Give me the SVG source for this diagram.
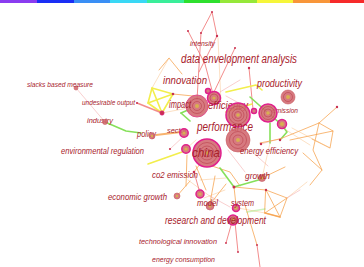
<svg xmlns="http://www.w3.org/2000/svg" width="364" height="267" viewBox="0 0 364 267">
<style>
text{font-family:"Liberation Sans",Arial,sans-serif;font-style:italic;fill:#a8222c;}
.e{fill:none;stroke-linecap:round;stroke-linejoin:round;}
.o{stroke:#f6a04a;stroke-width:1;opacity:.75;}
.of{stroke:#f8b878;stroke-width:.8;opacity:.55;}
.ot{stroke:#f6a04a;stroke-width:1.8;opacity:.8;}
.r{stroke:#f07878;stroke-width:1;opacity:.85;}
.rf{stroke:#f4a8a8;stroke-width:.8;opacity:.7;}
.g{stroke:#86e05a;stroke-width:1.6;}
.y{stroke:#f2ee4c;stroke-width:1.6;}
.b{fill:#d2686e;fill-opacity:.88;stroke:#c85a62;stroke-width:.6;}
.h{stroke:#e0208c;stroke-width:1.5;}
.ring{fill:none;stroke:#b8404c;stroke-width:.6;}
.c{fill:#d8b050;}
.d{fill:#c83050;}
</style>
<g id="legend-bar">
<rect x="0" y="0" width="37" height="3" fill="#8a3cf0"/>
<rect x="37" y="0" width="37" height="3" fill="#1a2ef5"/>
<rect x="74" y="0" width="36" height="3" fill="#3a8ff5"/>
<rect x="110" y="0" width="37" height="3" fill="#3ad8f5"/>
<rect x="147" y="0" width="37" height="3" fill="#3aee9a"/>
<rect x="184" y="0" width="36" height="3" fill="#2ee02e"/>
<rect x="220" y="0" width="37" height="3" fill="#96e83a"/>
<rect x="257" y="0" width="36" height="3" fill="#f6f63a"/>
<rect x="293" y="0" width="37" height="3" fill="#f8963a"/>
<rect x="330" y="0" width="34" height="3" fill="#f62a2a"/>
</g>
<g id="edges">
<polyline class="e r" points="201,33 212,12 217,36"/>
<line class="e r" x1="201" y1="33" x2="197" y2="100"/>
<polyline class="e r" points="188,31 205,64 213,94"/>
<line class="e r" x1="217" y1="36" x2="199" y2="72"/>
<line class="e r" x1="235" y1="48" x2="214" y2="92"/>
<line class="e of" x1="218" y1="38" x2="221" y2="102"/>
<line class="e r" x1="249" y1="68" x2="253" y2="109"/>
<line class="e rf" x1="220" y1="92" x2="240" y2="80"/>
<line class="e rf" x1="226" y1="96" x2="248" y2="108"/>
<polyline class="e o" points="159,70 169,58 182,74"/>
<line class="e of" x1="169" y1="58" x2="152" y2="88"/>
<polygon class="e y" points="152,88 173,94 162,113 148,103"/>
<line class="e y" x1="152" y1="88" x2="162" y2="113"/>
<line class="e y" x1="173" y1="94" x2="148" y2="103"/>
<line class="e o" x1="173" y1="94" x2="193" y2="96"/>
<line class="e of" x1="162" y1="113" x2="188" y2="108"/>
<line class="e r" x1="137" y1="103" x2="162" y2="113" style="stroke-width:1.6"/>
<line class="e rf" x1="76" y1="88" x2="105" y2="122"/>
<polyline class="e g" points="105,122 126,131 141,133"/>
<line class="e ot" x1="156" y1="135" x2="181" y2="132"/>
<polyline class="e g" points="181,113 190,121"/>
<line class="e g" x1="181" y1="113" x2="188" y2="110"/>
<line class="e y" x1="148" y1="164" x2="182" y2="152"/>
<line class="e rf" x1="170" y1="149" x2="184" y2="136"/>
<line class="e of" x1="186" y1="149" x2="196" y2="140"/>
<polyline class="e y" points="226,92 256,85 262,90"/>
<line class="e y" x1="226" y1="112" x2="252" y2="104"/>
<polyline class="e g" points="250,97 268,113 282,125"/>
<line class="e g" x1="270" y1="123" x2="270" y2="143"/>
<polyline class="e g" points="282,125 287,132 280,140"/>
<line class="e rf" x1="261" y1="144" x2="282" y2="138"/>
<line class="e rf" x1="250" y1="150" x2="268" y2="166"/>
<line class="e rf" x1="228" y1="150" x2="245" y2="172"/>
<polyline class="e o" points="260,143 280,139 319,123 337,107"/>
<polyline class="e o" points="319,123 333,131 330,148 312,139"/>
<polyline class="e o" points="319,123 313,150 322,170 310,185"/>
<line class="e o" x1="322" y1="170" x2="303" y2="153"/>
<line class="e o" x1="290" y1="140" x2="333" y2="131"/>
<line class="e of" x1="286" y1="130" x2="310" y2="145"/>
<line class="e of" x1="292" y1="128" x2="330" y2="148"/>
<line class="e of" x1="307" y1="182" x2="287" y2="198"/>
<line class="e o" x1="262" y1="178" x2="285" y2="167"/>
<line class="e of" x1="270" y1="143" x2="262" y2="178"/>
<line class="e o" x1="200" y1="164" x2="194" y2="172"/>
<line class="e o" x1="196" y1="166" x2="206" y2="190"/>
<polyline class="e o" points="212,166 230,172 240,186"/>
<line class="e o" x1="187" y1="155" x2="186" y2="186"/>
<line class="e o" x1="215" y1="176" x2="210" y2="203"/>
<line class="e o" x1="226" y1="184" x2="211" y2="203"/>
<line class="e o" x1="234" y1="187" x2="236" y2="205"/>
<line class="e o" x1="177" y1="196" x2="190" y2="181"/>
<line class="e of" x1="200" y1="180" x2="226" y2="178"/>
<line class="e of" x1="204" y1="198" x2="225" y2="190"/>
<line class="e of" x1="188" y1="180" x2="215" y2="200"/>
<polygon class="e o" points="266,190 287,198 280,217 265,213"/>
<line class="e o" x1="266" y1="190" x2="280" y2="217"/>
<line class="e ot" x1="265" y1="213" x2="280" y2="217"/>
<line class="e o" x1="265" y1="213" x2="287" y2="198"/>
<line class="e o" x1="234" y1="187" x2="266" y2="190"/>
<line class="e of" x1="238" y1="208" x2="265" y2="213"/>
<line class="e o" x1="245" y1="205" x2="257" y2="245"/>
<line class="e r" x1="257" y1="245" x2="260" y2="267"/>
<line class="e rf" x1="287" y1="198" x2="300" y2="190"/>
<polyline class="e g" points="220,168 234,187 262,179"/>
<line class="e g" x1="247" y1="212" x2="265" y2="209" style="opacity:.4"/>
<line class="e r" x1="194" y1="172" x2="200" y2="193"/>
<line class="e r" x1="232" y1="222" x2="226" y2="243"/>
<line class="e r" x1="235" y1="222" x2="238" y2="252"/>
<line class="e rf" x1="210" y1="196" x2="230" y2="207"/>
</g>
<g id="n-intensity"><circle cx="212" cy="12" r="1" class="d"/><circle cx="201" cy="33" r="1" class="d"/><circle cx="188" cy="31" r="1" class="d"/><circle cx="217" cy="36" r="1.2" class="d"/><circle cx="235" cy="48" r="1" class="d"/><text x="190" y="46" font-size="7" textLength="25" lengthAdjust="spacingAndGlyphs">intensity</text></g>
<g id="n-data-envelopment-analysis"><circle cx="249" cy="68" r="1.2" class="d"/><text x="181" y="63" font-size="12" textLength="116" lengthAdjust="spacingAndGlyphs">data envelopment analysis</text></g>
<g id="n-innovation"><circle cx="173" cy="94" r="1.3" class="d"/><text x="163" y="84" font-size="11.5" textLength="44" lengthAdjust="spacingAndGlyphs">innovation</text></g>
<g id="n-impact"><circle cx="197" cy="106" r="11" class="b" style="stroke:#e0508c;stroke-width:1"/><circle cx="197" cy="106" r="7.5" class="ring"/><circle cx="197" cy="106" r="4.5" class="ring"/><circle cx="197" cy="106" r="2" class="c"/><text x="169" y="108" font-size="10" textLength="22" lengthAdjust="spacingAndGlyphs">impact</text></g>
<g id="n-node-208-91"><circle cx="208" cy="91" r="2.5" class="b h"/></g>
<g id="n-efficiency"><circle cx="214" cy="98" r="6.5" class="b h"/><circle cx="214" cy="98" r="4" class="ring"/><circle cx="214" cy="98" r="1.6" class="c"/><text x="208" y="109" font-size="11.5" textLength="40" lengthAdjust="spacingAndGlyphs">efficiency</text></g>
<g id="n-productivity"><circle cx="288" cy="97" r="7" class="b"/><circle cx="288" cy="97" r="4.5" class="ring"/><circle cx="288" cy="97" r="2" class="c"/><text x="257" y="87" font-size="10.5" textLength="45" lengthAdjust="spacingAndGlyphs">productivity</text></g>
<g id="n-emission"><text x="272" y="113" font-size="7.5" textLength="26" lengthAdjust="spacingAndGlyphs">emission</text><circle cx="268" cy="113" r="9" class="b h"/><circle cx="268" cy="113" r="6.5" class="ring"/><circle cx="268" cy="113" r="4" class="ring"/><circle cx="268" cy="113" r="1.8" class="c"/></g>
<g id="n-node-254-111"><circle cx="254" cy="111" r="2.5" class="b h"/></g>
<g id="n-node-282-124"><circle cx="282" cy="124" r="4.5" class="b h"/><circle cx="282" cy="124" r="2" class="c"/></g>
<g id="n-performance"><circle cx="238" cy="115" r="12" class="b h"/><circle cx="238" cy="115" r="9" class="ring"/><circle cx="238" cy="115" r="6" class="ring"/><circle cx="238" cy="115" r="3.5" class="ring"/><circle cx="238" cy="115" r="1.8" class="c"/><text x="197" y="131" font-size="12.5" textLength="56" lengthAdjust="spacingAndGlyphs">performance</text></g>
<g id="n-energy-efficiency"><circle cx="238" cy="140" r="12" class="b"/><circle cx="238" cy="140" r="8.5" class="ring"/><circle cx="238" cy="140" r="5" class="ring"/><circle cx="238" cy="140" r="2" class="c"/><circle cx="261" cy="144" r="1.2" class="d"/><circle cx="280" cy="140" r="1.2" class="d"/><text x="240" y="154" font-size="9" textLength="58" lengthAdjust="spacingAndGlyphs">energy efficiency</text></g>
<g id="n-slacks-based-measure"><circle cx="76" cy="88" r="2" class="b"/><text x="27" y="87" font-size="6.8" textLength="66" lengthAdjust="spacingAndGlyphs">slacks based measure</text></g>
<g id="n-undesirable-output"><circle cx="137" cy="103" r="1" class="d"/><circle cx="162" cy="113" r="2.2" class="d" style="stroke:#e0208c;stroke-width:.6"/><text x="82" y="105" font-size="6.8" textLength="53" lengthAdjust="spacingAndGlyphs">undesirable output</text></g>
<g id="n-industry"><text x="87" y="123" font-size="7.8" textLength="26" lengthAdjust="spacingAndGlyphs">industry</text><circle cx="105" cy="122" r="2.5" class="b"/></g>
<g id="n-policy"><text x="137" y="137" font-size="8.5" textLength="19" lengthAdjust="spacingAndGlyphs">policy</text><circle cx="152" cy="136" r="3" class="b"/><circle cx="152" cy="136" r="1.2" class="c"/></g>
<g id="n-sector"><text x="167" y="133" font-size="6.8" textLength="20" lengthAdjust="spacingAndGlyphs">sector</text><circle cx="184" cy="133" r="4.2" class="b h"/><circle cx="184" cy="133" r="1.6" class="c"/></g>
<g id="n-node-186-149"><circle cx="186" cy="149" r="4.2" class="b h"/><circle cx="186" cy="149" r="1.6" class="c"/><circle cx="170" cy="149" r="1.1" class="d"/></g>
<g id="n-environmental-regulation"><text x="61" y="154" font-size="9" textLength="83" lengthAdjust="spacingAndGlyphs">environmental regulation</text></g>
<g id="n-china"><circle cx="207" cy="153" r="14" class="b h"/><circle cx="207" cy="153" r="10.5" class="ring"/><circle cx="207" cy="153" r="7" class="ring"/><circle cx="207" cy="153" r="4" class="ring"/><circle cx="207" cy="153" r="1.8" class="c"/><text x="192" y="157" font-size="13" textLength="28" lengthAdjust="spacingAndGlyphs">china</text></g>
<g id="n-co2-emission"><circle cx="194" cy="172" r="1.3" class="d"/><text x="152" y="178" font-size="9" textLength="46" lengthAdjust="spacingAndGlyphs">co2 emission</text></g>
<g id="n-growth"><circle cx="262" cy="178" r="3.5" class="b"/><circle cx="262" cy="178" r="1.4" class="c"/><circle cx="234" cy="187" r="1.5" class="d"/><circle cx="266" cy="190" r="1.2" class="d"/><text x="245" y="179" font-size="9" textLength="25" lengthAdjust="spacingAndGlyphs">growth</text></g>
<g id="n-economic-growth"><circle cx="177" cy="196" r="3" class="b"/><circle cx="177" cy="196" r="1.2" class="c"/><text x="108" y="200" font-size="8.5" textLength="59" lengthAdjust="spacingAndGlyphs">economic growth</text></g>
<g id="n-model"><circle cx="200" cy="194" r="4" class="b h"/><circle cx="200" cy="194" r="1.6" class="c"/><circle cx="210" cy="206" r="4" class="b"/><circle cx="210" cy="206" r="1.5" class="c"/><text x="197" y="206" font-size="8.5" textLength="21" lengthAdjust="spacingAndGlyphs">model</text></g>
<g id="n-system"><circle cx="236" cy="208" r="3.5" class="b h"/><circle cx="236" cy="208" r="1.4" class="c"/><text x="231" y="206" font-size="8.5" textLength="23" lengthAdjust="spacingAndGlyphs">system</text></g>
<g id="n-research-and-development"><circle cx="233" cy="220" r="5" class="b h"/><circle cx="233" cy="220" r="3" class="ring"/><circle cx="233" cy="220" r="1.4" class="c"/><text x="165" y="224" font-size="10" textLength="101" lengthAdjust="spacingAndGlyphs">research and development</text></g>
<g id="n-technological-innovation"><circle cx="226" cy="243" r="0.9" class="d"/><text x="139" y="244" font-size="8" textLength="78" lengthAdjust="spacingAndGlyphs">technological innovation</text></g>
<g id="n-energy-consumption"><circle cx="238" cy="252" r="0.9" class="d"/><text x="152" y="262" font-size="7.5" textLength="63" lengthAdjust="spacingAndGlyphs">energy consumption</text></g>
<g id="n-misc"><circle cx="337" cy="107" r="1.2" class="d"/><circle cx="257" cy="245" r="0.9" class="d"/></g>
</svg>
